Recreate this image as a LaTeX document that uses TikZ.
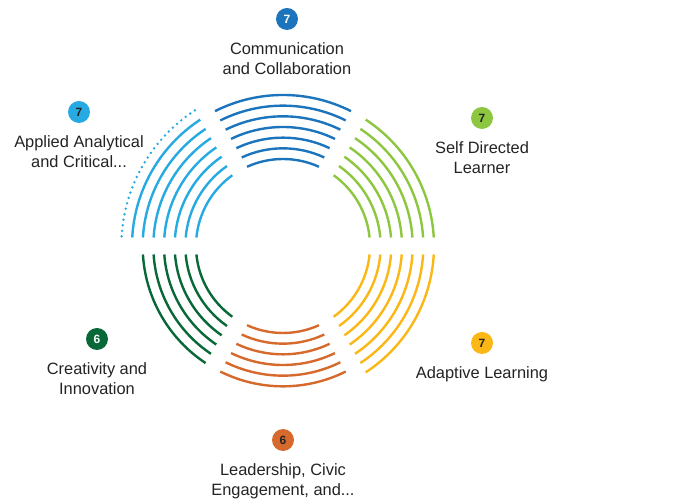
\documentclass[tikz,border=0pt]{standalone}
\usepackage{fontspec}
\setmainfont{Liberation Sans}
\usetikzlibrary{positioning}

\definecolor{commblue}{RGB}{28,117,188}
\definecolor{appliedblue}{RGB}{39,170,225}
\definecolor{selfgreen}{RGB}{141,198,63}
\definecolor{adaptyellow}{RGB}{251,183,21}
\definecolor{leadorange}{RGB}{214,106,45}
\definecolor{creatgreen}{RGB}{8,104,56}
\definecolor{labelgray}{RGB}{35,35,35}

\begin{document}
\begin{tikzpicture}[x=1pt, y=1pt,
    ring/.style={line width=2.4pt},
    badge/.style={circle, minimum size=22pt, inner sep=0pt, font=\fontsize{12}{12}\selectfont\bfseries},
    skill/.style={align=center, inner sep=0pt, text=labelgray, font=\fontsize{16.4}{20.5}\selectfont}]
    \newcommand\Rinner{87}
    \newcommand\Rstep{10.67}
    \newcommand\Rgap{8.5}

    \useasboundingbox (0,0) rectangle (675,503);
    \coordinate (c) at (283,257);

    % Rings, one sector per skill
    \foreach \ang/\cnt/\col in {90/7/commblue, 30/7/selfgreen, -30/7/adaptyellow, -90/6/leadorange, -150/6/creatgreen, 150/7/appliedblue} {
        \foreach \k in {1,...,\cnt} {
            \pgfmathsetmacro\r{\Rinner+(\k-1)*\Rstep}
            \pgfmathsetmacro\sa{\ang-30+asin(\Rgap/\r)}
            \pgfmathsetmacro\ea{\ang+30-asin(\Rgap/\r)}
            \draw[ring, draw=\col] (c) ++(\sa:\r) arc[start angle=\sa, end angle=\ea, radius=\r];
        }
    }
    % dotted outer ring
    \pgfmathsetmacro\r{\Rinner+7*\Rstep}
    \pgfmathsetmacro\sa{120+asin(\Rgap/\r)}
    \pgfmathsetmacro\ea{180-asin(\Rgap/\r)}
    \draw[ring, draw=appliedblue, line width=2.7pt, line cap=round, dash pattern=on 0pt off 5.6pt] (c) ++(\sa:\r) arc[start angle=\sa, end angle=\ea, radius=\r];

    % Badges and labels
    \node[badge, fill=commblue, text=white] (commbadge) at (287,484) {7};
    \node[skill, below=12pt of commbadge] (commtext) {Communication\\and Collaboration};

    \node[badge, fill=selfgreen, text=labelgray] (selfbadge) at (482,385) {7};
    \node[skill, below=12pt of selfbadge] (selftext) {Self Directed\\Learner};

    \node[badge, fill=adaptyellow, text=labelgray] (adaptbadge) at (482,160) {7};
    \node[skill, below=12pt of adaptbadge] (adapttext) {Adaptive Learning};

    \node[badge, fill=leadorange, text=labelgray] (leadbadge) at (283,63) {6};
    \node[skill, below=12pt of leadbadge] (leadtext) {Leadership, Civic\\Engagement, and...};

    \node[badge, fill=creatgreen, text=white] (creatbadge) at (97,164) {6};
    \node[skill, below=12pt of creatbadge] (creattext) {Creativity and\\Innovation};

    \node[badge, fill=appliedblue, text=labelgray] (appliedbadge) at (79,391) {7};
    \node[skill, below=12pt of appliedbadge] (appliedtext) {Applied Analytical\\and Critical...};

\end{tikzpicture}
\end{document}
